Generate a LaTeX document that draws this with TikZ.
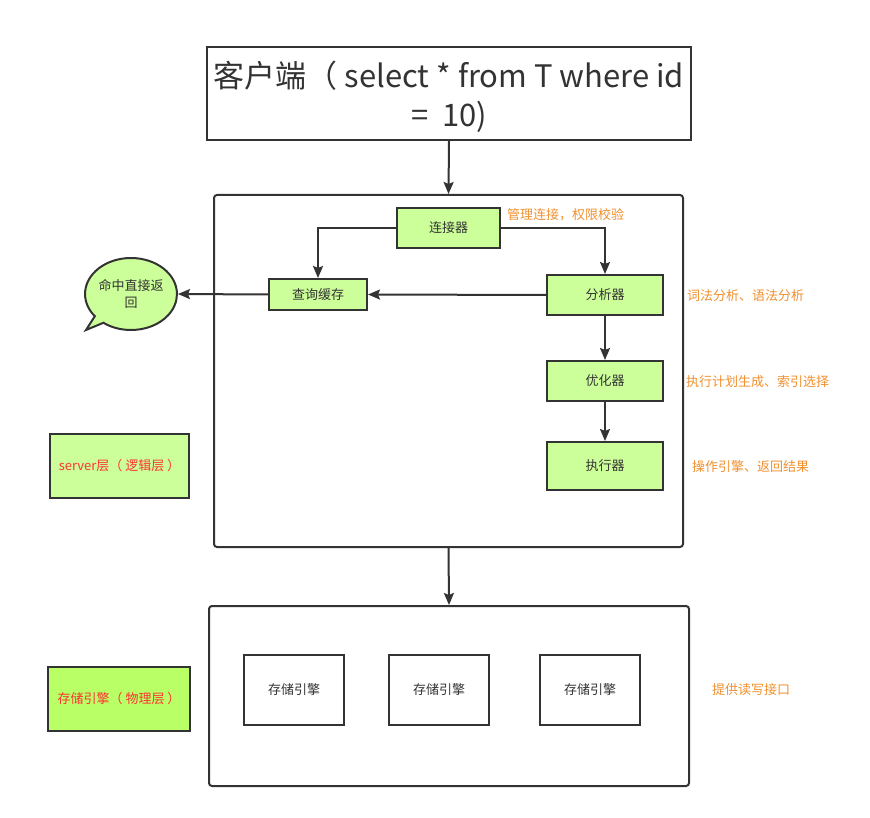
\documentclass[tikz,border=0pt]{standalone}
\usepackage{fontspec}
\setmainfont{Noto Sans CJK SC}
\usetikzlibrary{arrows.meta,shapes.callouts}
\definecolor{ln}{HTML}{333333}
\definecolor{gfill}{HTML}{CCFF99}
\definecolor{gfill2}{HTML}{B9FF66}
\definecolor{org}{HTML}{F0902F}
\definecolor{rd}{HTML}{FF3333}
\tikzset{
  box/.style={draw=ln, line width=2pt, inner sep=0pt, text=ln, font=\fontsize{13}{15}\selectfont, align=center},
  gbox/.style={box, fill=gfill},
  cont/.style={draw=ln, line width=2pt, inner sep=0pt, rounded corners=3pt},
  note/.style={text=org, font=\fontsize{13}{15}\selectfont, inner sep=0pt, anchor=west},
  conn/.style={draw=ln, line width=2pt, -{Stealth[length=12pt,width=10pt,inset=2pt]}},
}
\begin{document}
\begin{tikzpicture}[x=1pt,y=-1pt]
\useasboundingbox (0,0) rectangle (870,818);
% client
\node[box, minimum width=484pt, minimum height=93pt] (client) at (449,93.5) {};
\node[text=ln, inner sep=0pt, align=center, font=\fontsize{31}{39}\selectfont] (ctext) at (449,97) {客户端（ select * from T where id\\=\ \ 10)};
% server container
\node[cont, minimum width=469pt, minimum height=352pt] (server) at (448.5,371) {};
\node[gbox, minimum width=103pt, minimum height=40pt] (conn) at (448.5,228) {连接器};
\node[gbox, minimum width=98pt, minimum height=31pt] (cache) at (318,294.5) {查询缓存};
\node[gbox, minimum width=116pt, minimum height=40pt] (ana) at (605,295) {分析器};
\node[gbox, minimum width=116pt, minimum height=40pt] (opt) at (605,381) {优化器};
\node[gbox, minimum width=116pt, minimum height=48pt] (exe) at (605,466) {执行器};
\node[ellipse callout, draw=ln, line width=2pt, fill=gfill, minimum width=91pt, minimum height=72pt, inner sep=0pt, text=ln, font=\fontsize{13}{17}\selectfont, align=center, callout absolute pointer={(86,330)}] (hit) at (131,294) {命中直接返\\回};
% notes
\node[note] (n1) at (507,215) {管理连接，权限校验};
\node[note] (n2) at (687,296) {词法分析、语法分析};
\node[note] (n3) at (686,382) {执行计划生成、索引选择};
\node[note] (n4) at (692,467) {操作引擎、返回结果};
\node[gbox, minimum width=139pt, minimum height=64pt, text=rd] (slabel) at (119.5,466) {server层（ 逻辑层 ）};
% storage
\node[cont, minimum width=480pt, minimum height=180pt] (storage) at (449,696) {};
\node[box, minimum width=100pt, minimum height=70pt] (se1) at (294,690) {存储引擎};
\node[box, minimum width=100pt, minimum height=70pt] (se2) at (439,690) {存储引擎};
\node[box, minimum width=100pt, minimum height=70pt] (se3) at (590,690) {存储引擎};
\node[note] (n5) at (712,690) {提供读写接口};
\node[box, fill=gfill2, minimum width=142pt, minimum height=64pt, text=rd] (plabel) at (119,699) {存储引擎（ 物理层 ）};
% connectors
\draw[conn] (client.south) -- (server.north);
\draw[conn] (conn.west) -| (cache.north);
\draw[conn] (conn.east) -| (ana.north);
\draw[conn] (ana.west) -- (cache.east);
\draw[conn] (cache.west) -- (hit.east);
\draw[conn] (ana.south) -- (opt.north);
\draw[conn] (opt.south) -- (exe.north);
\draw[conn] (server.south) -- (storage.north);
\end{tikzpicture}
\end{document}
